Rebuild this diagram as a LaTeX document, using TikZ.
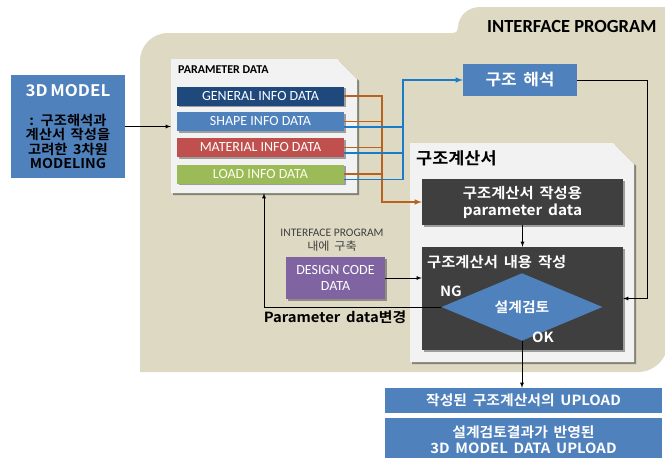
\documentclass[tikz,border=0pt]{standalone}
\usepackage{fontspec}
\setmainfont{Carlito}
\newfontfamily\kor{Noto Sans CJK KR}[BoldFont={Noto Sans CJK KR Bold},WordSpace=1.7,FakeStretch=1.06]
\usetikzlibrary{shapes.geometric,shadows}
\definecolor{bgtan}{HTML}{DDD9C3}
\definecolor{panelgray}{HTML}{F2F2F2}
\definecolor{darkbox}{HTML}{3F3F3F}
\definecolor{boxblue}{HTML}{4F81BD}
\definecolor{navy}{HTML}{1F497D}
\definecolor{brick}{HTML}{C0504D}
\definecolor{olive}{HTML}{9BBB59}
\definecolor{violet}{HTML}{8064A2}
\definecolor{rust}{HTML}{B8621E}
\definecolor{sky}{HTML}{1A7CC8}

\begin{document}
\begin{tikzpicture}[x=1pt,y=-1pt,>=latex,
  every node/.style={inner sep=0pt},
  softshadow/.style={drop shadow={shadow xshift=1.5pt,shadow yshift=-1.5pt,opacity=.35,fill=black}},
  panel/.style={fill=panelgray,drop shadow={shadow xshift=2pt,shadow yshift=-2pt,opacity=.4,fill=black}},
  bar/.style={minimum width=167pt,minimum height=19pt,text=white,softshadow,
    font=\fontsize{14}{16}\selectfont},
  kbox/.style={fill=boxblue,text=white,align=center,font=\kor\bfseries\fontsize{14}{16}\selectfont},
  dbox/.style={fill=darkbox,text=white,softshadow,minimum width=201pt},
  klabel/.style={font=\kor\bfseries\fontsize{14}{16}\selectfont},
  oline/.style={draw=rust,line width=1.5pt},
  bline/.style={draw=sky,line width=1.5pt}]
\useasboundingbox (0,0) rectangle (665,458);

\fill[bgtan] (140,372) -- (140,61) .. controls (140,45.5) and (152.5,33) .. (168,33)
  -- (452,33) .. controls (456,33) and (458,31) .. (458,28)
  .. controls (458,16) and (468,7) .. (480,7) -- (668,7) -- (668,342)
  .. controls (668,358.5) and (654.5,372) .. (638,372) -- cycle;
\node[anchor=base west,font=\bfseries\fontsize{18.5}{20}\selectfont] (prog) at (487,32) {INTERFACE PROGRAM};

\node[fill=boxblue,minimum width=114pt,minimum height=103pt,align=center,
  font=\kor\bfseries\fontsize{13.5}{14.5}\selectfont] (model) at (68,126.5)
  {{\color{white}\fontsize{16}{14.5}\selectfont 3D\,MODEL}\\[14.5pt]
   : 구조해석과\\계산서 작성을\\고려한 3차원\\MODELING};

\path[panel] (171,59) -- (337,59) -- (357,79) -- (357,193) -- (171,193) -- cycle;
\node[minimum width=186pt,minimum height=134pt] (param) at (264,126) {};
\node[anchor=west,font=\bfseries\fontsize{12}{14}\selectfont] (ptitle) at (178,70) {PARAMETER DATA};
\node[bar,fill=navy] (general) at (260.5,96) {GENERAL INFO DATA};
\node[bar,fill=boxblue] (shapeinfo) at (260.5,121.5) {SHAPE INFO DATA};
\node[bar,fill=brick] (material) at (260.5,147.5) {MATERIAL INFO DATA};
\node[bar,fill=olive,text=white!92!yellow] (load) at (260.5,174) {LOAD INFO DATA};

\node[kbox,minimum width=114pt,minimum height=32pt,font=\kor\bfseries\fontsize{16}{18}\selectfont] (anal) at (520,80) {구조 해석};

\path[panel] (410,143) -- (613,143) -- (634,164) -- (634,362) -- (410,362) -- cycle;
\node[minimum width=224pt,minimum height=219pt] (calc) at (522,252.5) {};
\node[anchor=west,font=\kor\bfseries\fontsize{16.5}{18}\selectfont] (ctitle) at (416,158) {구조계산서};
\node[dbox,minimum height=46pt,align=center,font=\kor\bfseries\fontsize{14.5}{17}\selectfont] (prep) at (522.5,202)
  {구조계산서 작성용\\parameter data};
\node[dbox,minimum height=103pt] (write) at (522.5,298.5) {};
\node[anchor=west,text=white,font=\kor\bfseries\fontsize{14.5}{16}\selectfont] (wtitle) at (427,262) {구조계산서 내용 작성};
\node[klabel,text=white] (ng) at (451,291) {NG};
\node[diamond,fill=boxblue,minimum width=161pt,minimum height=45pt,text=white,
  font=\kor\bfseries\fontsize{14}{16}\selectfont] (check) at (522,307) {설계검토};
\node[klabel,text=white] (ok) at (543,337) {OK};

\node[align=center,text=black!75,font=\fontsize{11.5}{14}\selectfont] (note) at (332,240) {INTERFACE PROGRAM\\{\kor 내에 구축}};
\node[fill=violet,text=white,softshadow,minimum width=99pt,minimum height=42pt,align=center,
  font=\fontsize{14}{16}\selectfont] (design) at (335.5,278) {DESIGN CODE\\DATA};
\node[klabel] (change) at (335,317) {Parameter data변경};

\node[kbox,minimum width=277pt,minimum height=25pt] (out1) at (523.5,400.5) {작성된 구조계산서의 UPLOAD};
\node[kbox,minimum width=277pt,minimum height=44pt] (out2) at (523.5,440) {설계검토결과가 반영된\\3D MODEL DATA UPLOAD};

\coordinate (ob) at (382,0);
\coordinate (bb) at (403,0);
\coordinate (rb) at (647,0);
\draw[oline,->] (general.east) -| (ob |- prep.west) -- (prep.west);
\draw[oline] (shapeinfo.east) -- (shapeinfo.east -| ob);
\draw[oline] (material.east) -- (material.east -| ob);
\draw[oline] (load.east) -- (load.east -| ob);
\draw[bline,->] ([yshift=-5.5pt]load.east) -| (bb |- anal.west) -- (anal.west);
\draw[bline] ([yshift=-5.5pt]shapeinfo.east) -- ([yshift=-5.5pt]shapeinfo.east -| bb);
\draw[bline] ([yshift=-5.5pt]material.east) -- ([yshift=-5.5pt]material.east -| bb);

\draw[thick,->] (model.east) -- (param.west |- model.east);
\draw[thick,->] (anal.east) -| (rb |- write.east) -- (write.east);
\draw[thick,->] (prep.south) -- (write.north);
\draw[thick,->] (design.east) -- (write.west |- design.east);
\draw[thick,->] (check.west) -| (param.south);
\draw[thick,->] (check.south) -- (check.south |- out1.north);
\end{tikzpicture}
\end{document}
